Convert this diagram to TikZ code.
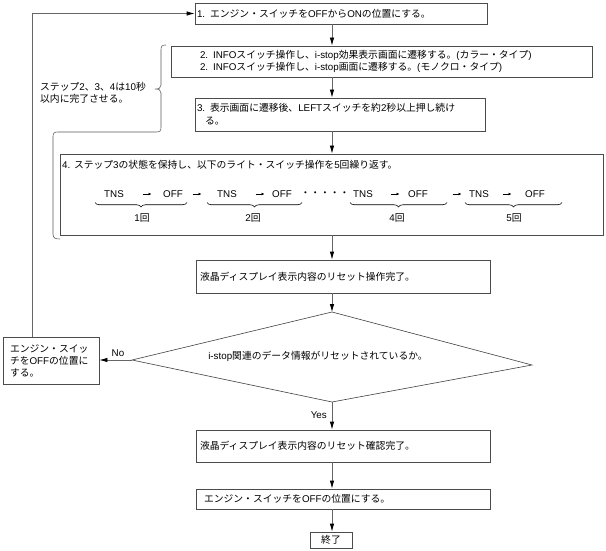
\documentclass[tikz,border=0pt]{standalone}
\usepackage{fontspec}
\setmainfont{Liberation Sans}
\newfontfamily\jp{Noto Sans CJK JP}
\newcommand\J[1]{{\jp #1}}
\usetikzlibrary{arrows.meta,decorations.pathreplacing}
\begin{document}
\begin{tikzpicture}[x=1pt,y=-1pt,
  every node/.style={font=\fontsize{9.8}{12.8}\selectfont, inner sep=0pt},
  box/.style={draw=black!70, line width=0.75pt, rectangle, align=left, inner ysep=0pt},
  arr/.style={draw=black!60, line width=0.75pt, -{Latex[length=8pt,width=4.5pt,color=black]}},
  small/.style={draw=black, line width=0.6pt, -{Latex[length=3pt,width=3pt]}},
  brk/.style={draw=black!65, line width=0.6pt},
  brc/.style={draw=black, line width=0.6pt, decorate, decoration={brace,mirror,amplitude=4.5pt}},
  txt/.style={anchor=west, align=left}
]
\useasboundingbox (0,0) rectangle (606,551);
\coordinate (mx) at (332,0);
\coordinate (lx) at (32,0);

% boxes
\node[box, minimum width=292pt, minimum height=21pt, inner xsep=2pt, text width=288pt] (b1) at (341,13.5)
  {1. \J{エンジン・スイッチを}OFF\J{から}ON\J{の位置にする。}};
\node[box, minimum width=421pt, minimum height=31pt, inner xsep=29pt, text width=363pt] (b2) at (381.5,61.5)
  {2. INFO\J{スイッチ操作し、}i-stop\J{効果表示画面に遷移する。}(\J{カラー・タイプ})\\
   2. INFO\J{スイッチ操作し、}i-stop\J{画面に遷移する。}(\J{モノクロ・タイプ})};
\node[box, minimum width=290pt, minimum height=33pt, inner xsep=2pt, text width=286pt] (b3) at (340,114.5)
  {3. \J{表示画面に遷移後、}LEFT\J{スイッチを約}2\J{秒以上押し続け}\\\hspace*{8pt}\J{る。}};
\node[box, minimum width=543pt, minimum height=81pt] (b4) at (331.5,194.5) {};
\node[txt] (t4) at (62,165) {4. \J{ステップ}3\J{の状態を保持し、以下のライト・スイッチ操作を}5\J{回繰り返す。}};
\node[box, minimum width=294pt, minimum height=33pt, inner xsep=4pt, text width=286pt] (b5) at (343,276.5)
  {\J{液晶ディスプレイ表示内容のリセット操作完了。}};
\node[box, minimum width=294pt, minimum height=32pt, inner xsep=4pt, text width=286pt] (b6) at (343,446)
  {\J{液晶ディスプレイ表示内容のリセット確認完了。}};
\node[box, minimum width=294pt, minimum height=20pt, inner xsep=8pt, text width=278pt] (b7) at (343,499)
  {\J{エンジン・スイッチを}OFF\J{の位置にする。}};
\node[box, minimum width=42pt, minimum height=16pt, align=center] (b8) at (331,540) {\J{終了}};
\node[box, minimum width=96pt, minimum height=47pt, inner xsep=7pt, text width=82pt,
      font=\fontsize{9.8}{12}\selectfont] (bl) at (51,360.5)
  {\J{エンジン・スイッ}\\\J{チを}OFF\J{の位置に}\\\J{する。}};

% diamond
\coordinate (dt) at (332,312);
\coordinate (dl) at (132,360);
\coordinate (dr) at (532,365);
\coordinate (db) at (332,402);
\draw[draw=black!75, line width=0.6pt] (dt) -- (dr) -- (db) -- (dl) -- cycle;
\node (dtext) at (318,356) {i-stop\J{関連のデータ情報がリセットされているか。}};

% row inside box 4
\foreach \x/\t in {114/TNS,173/OFF,227/TNS,282/OFF,363/TNS,418/OFF,479/TNS,535/OFF}
  \node (r\x) at (\x,194) {\t};
\foreach \x in {147,197,260,395,457,507}
  \draw[small] (\x-4.5,194) -- (\x+4.5,194);
\node (dots) at (325,194) {\J{・・・・・}};
\draw[brc] (95,202.5) -- (187,202.5);
\draw[brc] (207,202.5) -- (302,202.5);
\draw[brc] (350,202.5) -- (447,202.5);
\draw[brc] (465,202.5) -- (562,202.5);
\node (n1) at (142,218) {1\J{回}};
\node (n2) at (253,218) {2\J{回}};
\node (n4) at (397,218) {4\J{回}};
\node (n5) at (514,218) {5\J{回}};

% bracket and note
\draw[brk] (166,45) .. controls (162,45) and (161,46) .. (161,50) -- (161,85)
  .. controls (161,88) and (159,89) .. (155,89)
  .. controls (159,89) and (161,90) .. (161,93) -- (161,127)
  .. controls (161,131) and (160,132) .. (156,132) -- (58,132)
  .. controls (54,132) and (53,133) .. (53,137) -- (53,234)
  .. controls (53,238) and (55,239) .. (60,239);
\node[txt, font=\fontsize{9.8}{12}\selectfont] (note) at (40,93)
  {\J{ステップ}2\J{、}3\J{、}4\J{は}10\J{秒}\\\J{以内に完了させる。}};

% connectors
\draw[arr] (b1.south -| mx) -- (b2.north -| mx);
\draw[arr] (b2.south -| mx) -- (b3.north -| mx);
\draw[arr] (b3.south -| mx) -- (b4.north -| mx);
\draw[arr] (b4.south -| mx) -- (b5.north -| mx);
\draw[arr] (b5.south -| mx) -- (dt);
\draw[arr] (db) -- (b6.north -| mx);
\draw[arr] (b6.south -| mx) -- (b7.north -| mx);
\draw[arr] (b7.south -| mx) -- (b8.north -| mx);
\draw[arr] (dl) -- (dl -| bl.east);
\draw[arr] (bl.north -| lx) |- (b1.west);
\node (no) at (118,353) {No};
\node[anchor=east] (yes) at (327,415) {Yes};
\end{tikzpicture}
\end{document}
